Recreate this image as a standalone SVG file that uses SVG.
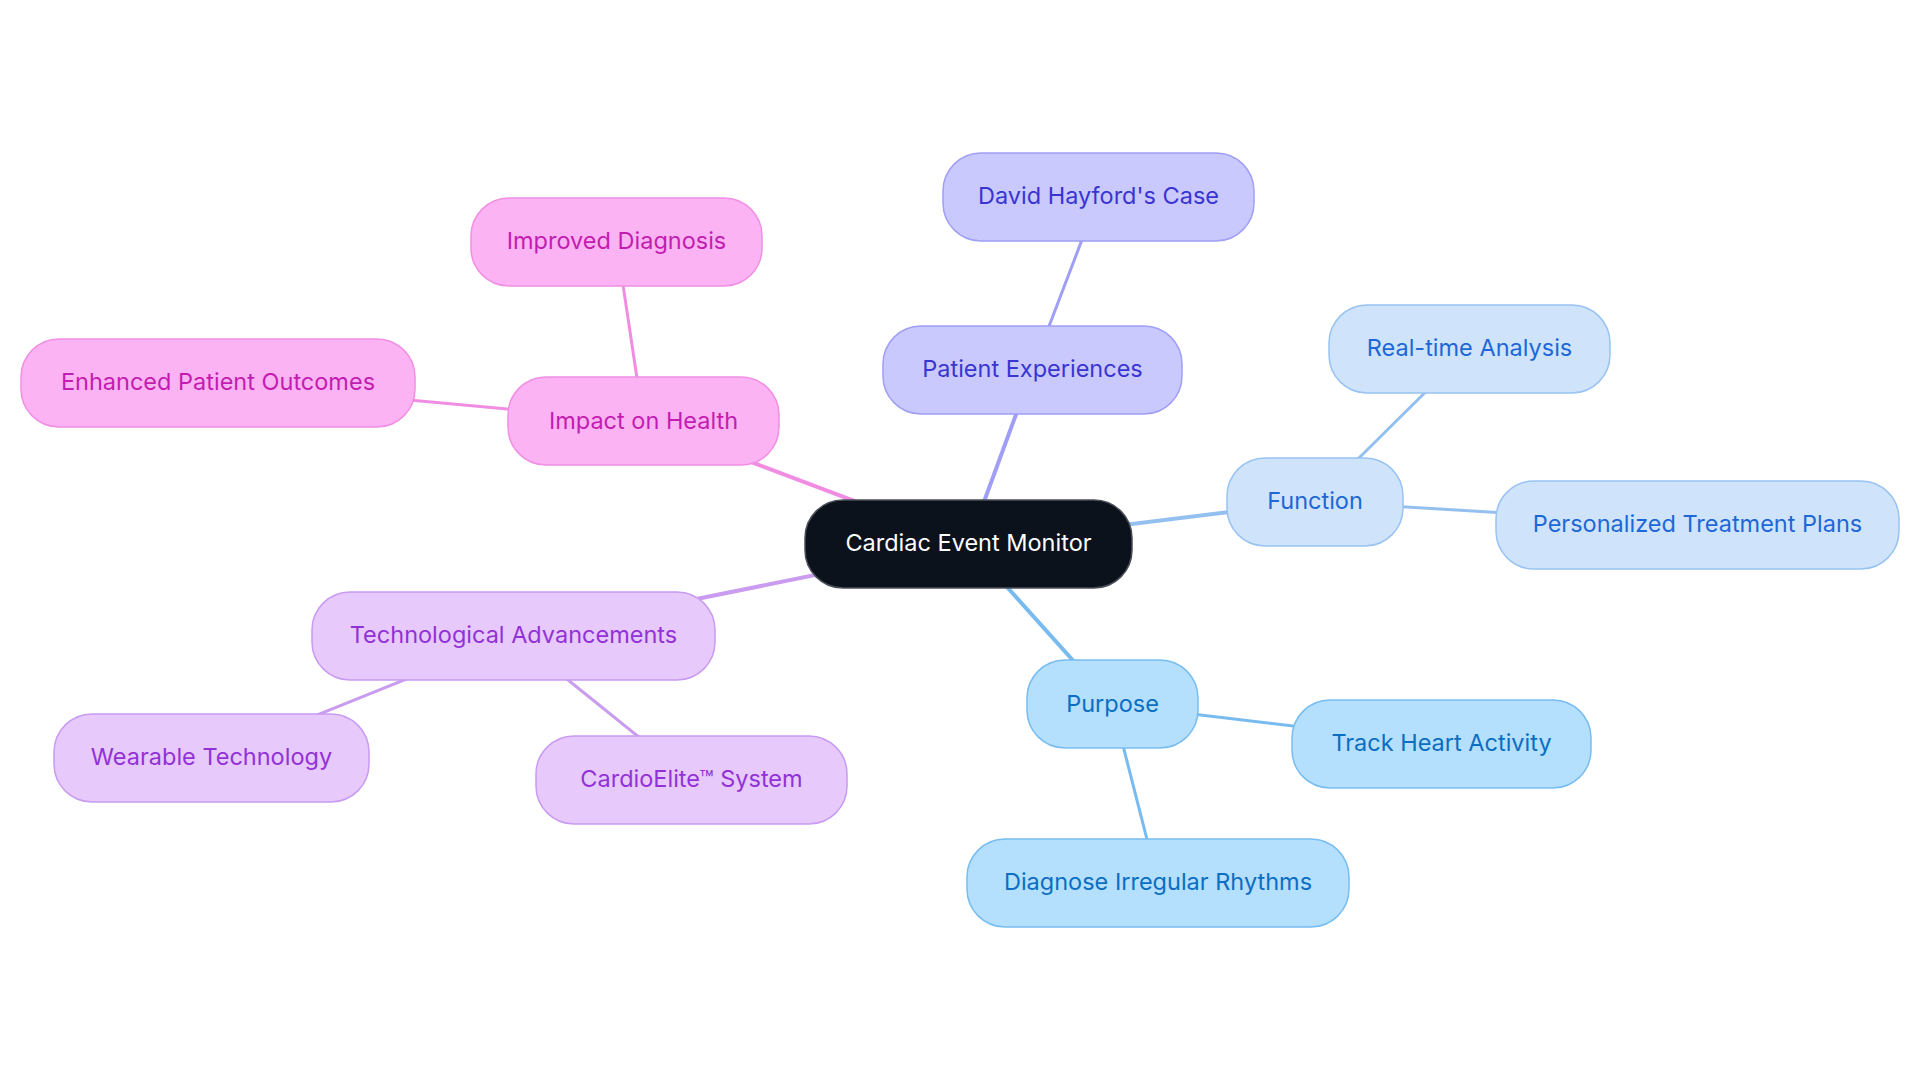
<svg xmlns="http://www.w3.org/2000/svg" width="1920" height="1083" viewBox="0 0 1920 1083">
<style>
  .lbl { font-family: Inter, "Liberation Sans", sans-serif; font-size: 23.5px; text-anchor: middle; }
  .root rect { fill: #0c121b; stroke: #4a4f57; stroke-width: 1.5; }
  .root text { fill: #ffffff; }
  .pink rect { fill: #fcb3f4; stroke: #f08fe3; stroke-width: 1.5; }
  .pink text { fill: #c21db0; }
  .indigo rect { fill: #c9c9fd; stroke: #a09ff6; stroke-width: 1.5; }
  .indigo text { fill: #3a34d2; }
  .lblue rect { fill: #cfe3fb; stroke: #98c3f2; stroke-width: 1.5; }
  .lblue text { fill: #1d68d6; }
  .sky rect { fill: #b4dffd; stroke: #78bdf0; stroke-width: 1.5; }
  .sky text { fill: #0b6ec2; }
  .lav rect { fill: #e7c9fc; stroke: #c99bf1; stroke-width: 1.5; }
  .lav text { fill: #9232d6; }
  .e1 { stroke-width: 4; fill: none; }
  .e2 { stroke-width: 3; fill: none; }
  .cp { stroke: #f08de2; }
  .ci { stroke: #a09ef6; }
  .cl { stroke: #94c0ef; }
  .cs { stroke: #78bbf0; }
  .cv { stroke: #c99cf0; }
</style>
<rect x="0" y="0" width="1920" height="1083" fill="#ffffff"/>
<g id="connectors">
  <line class="e1 ci" x1="968.5" y1="544" x2="1032.5" y2="369.5"/>
  <line class="e2 ci" x1="1032.5" y1="369.5" x2="1098.5" y2="196.5"/>
  <line class="e1 cl" x1="968.5" y1="544" x2="1315" y2="501.5"/>
  <line class="e2 cl" x1="1315" y1="501.5" x2="1469.5" y2="348.5"/>
  <line class="e2 cl" x1="1315" y1="501.5" x2="1697.5" y2="524.5"/>
  <line class="e1 cs" x1="968.5" y1="544" x2="1112.5" y2="704.5"/>
  <line class="e2 cs" x1="1112.5" y1="704.5" x2="1441.5" y2="743.5"/>
  <line class="e2 cs" x1="1112.5" y1="704.5" x2="1158" y2="882.5"/>
  <line class="e1 cp" x1="968.5" y1="544" x2="643.5" y2="421.5"/>
  <line class="e2 cp" x1="643.5" y1="421.5" x2="616.5" y2="241.5"/>
  <line class="e2 cp" x1="643.5" y1="421.5" x2="218" y2="382.5"/>
  <line class="e1 cv" x1="968.5" y1="544" x2="513.5" y2="636"/>
  <line class="e2 cv" x1="513.5" y1="636" x2="211.5" y2="757.5"/>
  <line class="e2 cv" x1="513.5" y1="636" x2="691.5" y2="779.5"/>
</g>
<g id="n-root" class="root">
  <rect x="805" y="500" width="327" height="88" rx="38"/>
  <text class="lbl" x="968.5" y="551">Cardiac Event Monitor</text>
</g>
<g id="n-patient" class="indigo">
  <rect x="883" y="326" width="299" height="88" rx="38"/>
  <text class="lbl" x="1032.5" y="376.5">Patient Experiences</text>
</g>
<g id="n-david" class="indigo">
  <rect x="943" y="153" width="311" height="88" rx="38"/>
  <text class="lbl" x="1098.5" y="203.5">David Hayford's Case</text>
</g>
<g id="n-function" class="lblue">
  <rect x="1227" y="458" width="176" height="88" rx="38"/>
  <text class="lbl" x="1315" y="508.5">Function</text>
</g>
<g id="n-realtime" class="lblue">
  <rect x="1329" y="305" width="281" height="88" rx="38"/>
  <text class="lbl" x="1469.5" y="355.5">Real-time Analysis</text>
</g>
<g id="n-personal" class="lblue">
  <rect x="1496" y="481" width="403" height="88" rx="38"/>
  <text class="lbl" x="1697.5" y="531.5">Personalized Treatment Plans</text>
</g>
<g id="n-purpose" class="sky">
  <rect x="1027" y="660" width="171" height="88" rx="38"/>
  <text class="lbl" x="1112.5" y="711.5">Purpose</text>
</g>
<g id="n-track" class="sky">
  <rect x="1292" y="700" width="299" height="88" rx="38"/>
  <text class="lbl" x="1441.5" y="750.5">Track Heart Activity</text>
</g>
<g id="n-diagnose" class="sky">
  <rect x="967" y="839" width="382" height="88" rx="38"/>
  <text class="lbl" x="1158" y="889.5">Diagnose Irregular Rhythms</text>
</g>
<g id="n-impact" class="pink">
  <rect x="508" y="377" width="271" height="88" rx="38"/>
  <text class="lbl" x="643.5" y="428.5">Impact on Health</text>
</g>
<g id="n-improved" class="pink">
  <rect x="471" y="198" width="291" height="88" rx="38"/>
  <text class="lbl" x="616.5" y="248.5">Improved Diagnosis</text>
</g>
<g id="n-enhanced" class="pink">
  <rect x="21" y="339" width="394" height="88" rx="38"/>
  <text class="lbl" x="218" y="389.5">Enhanced Patient Outcomes</text>
</g>
<g id="n-tech" class="lav">
  <rect x="312" y="592" width="403" height="88" rx="38"/>
  <text class="lbl" x="513.5" y="642.5">Technological Advancements</text>
</g>
<g id="n-wearable" class="lav">
  <rect x="54" y="714" width="315" height="88" rx="38"/>
  <text class="lbl" x="211.5" y="764.5">Wearable Technology</text>
</g>
<g id="n-cardioelite" class="lav">
  <rect x="536" y="736" width="311" height="88" rx="38"/>
  <text class="lbl" x="691.5" y="786.5">CardioElite™ System</text>
</g>
</svg>
